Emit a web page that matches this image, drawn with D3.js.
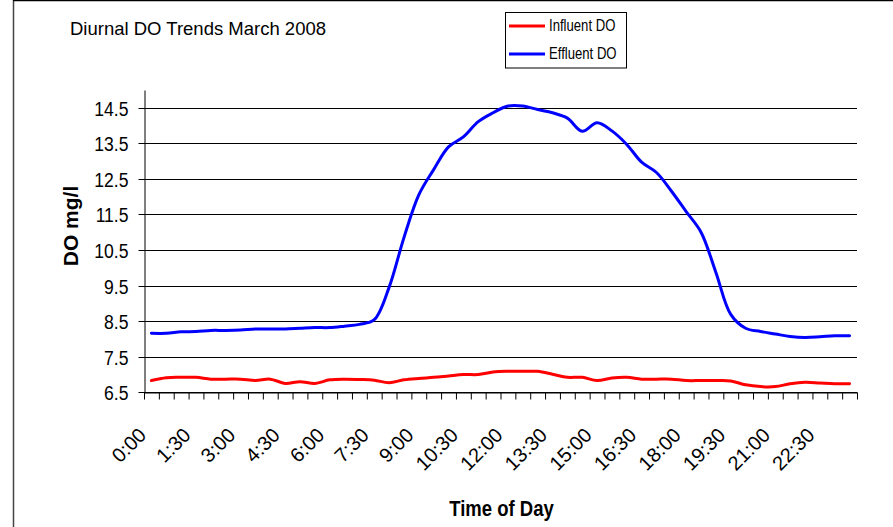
<!DOCTYPE html>
<html>
<head>
<meta charset="utf-8">
<script src="https://cdn.jsdelivr.net/npm/d3@7"></script>
<style>
html,body{margin:0;padding:0;background:#fff;}
svg{display:block;font-family:"Liberation Sans",Arial,sans-serif;}
</style>
</head>
<body>
<svg id="chart" width="893" height="527"></svg>
<script>
const times = ["0:00","0:30","1:00","1:30","2:00","2:30","3:00","3:30","4:00","4:30","5:00","5:30",
  "6:00","6:30","7:00","7:30","8:00","8:30","9:00","9:30","10:00","10:30","11:00","11:30",
  "12:00","12:30","13:00","13:30","14:00","14:30","15:00","15:30","16:00","16:30","17:00","17:30",
  "18:00","18:30","19:00","19:30","20:00","20:30","21:00","21:30","22:00","22:30","23:00","23:30"];
const influentDO = [6.83,6.91,6.92,6.92,6.87,6.87,6.87,6.83,6.87,6.75,6.80,6.75,
  6.85,6.87,6.86,6.84,6.77,6.85,6.89,6.92,6.96,7.00,7.00,7.07,
  7.09,7.09,7.09,7.01,6.92,6.92,6.83,6.90,6.92,6.87,6.87,6.87,
  6.83,6.83,6.83,6.82,6.71,6.66,6.66,6.74,6.78,6.76,6.74,6.74];
const effluentDO = [8.16,8.16,8.20,8.21,8.24,8.24,8.25,8.28,8.28,8.28,8.30,8.32,
  8.32,8.36,8.41,8.54,9.45,10.85,12.05,12.76,13.40,13.68,14.11,14.36,
  14.55,14.55,14.45,14.36,14.21,13.84,14.08,13.85,13.47,12.97,12.68,12.16,
  11.58,11.00,9.87,8.69,8.30,8.21,8.14,8.07,8.04,8.06,8.09,8.09];
const yTicks = [6.5,7.5,8.5,9.5,10.5,11.5,12.5,13.5,14.5];
const xLabelEvery = 3;
const seriesNames = ["Influent DO","Effluent DO"];
const seriesColors = ["#FF0000","#0000FF"];

const svg = d3.select("#chart");
const L = 144, R = 857, T = 90, B = 392.3;

const x = d3.scaleLinear().domain([0, times.length]).range([L, R]);
const y = d3.scaleLinear().domain([6.5, 15]).range([B, T]);

function squeeze(sel, ratio){
  sel.each(function(){
    const len = this.getComputedTextLength();
    this.setAttribute("textLength", len*ratio);
    this.setAttribute("lengthAdjust","spacingAndGlyphs");
  });
}

// outer frame
svg.append("line").attr("x1",13.5).attr("x2",13.5).attr("y1",0).attr("y2",527).attr("stroke","#444").attr("stroke-width",1.5);
svg.append("line").attr("x1",13).attr("x2",893).attr("y1",0.5).attr("y2",0.5).attr("stroke","#000").attr("stroke-width",1.5);

// gridlines
svg.append("g").selectAll("line").data(yTicks).join("line")
  .attr("x1",L).attr("x2",R)
  .attr("y1",d=>Math.round(y(d))+0.5).attr("y2",d=>Math.round(y(d))+0.5)
  .attr("stroke","#000").attr("stroke-width",1);

// y axis
const yAxis = svg.append("g").attr("transform",`translate(${L+0.5},0)`)
  .call(d3.axisLeft(y).tickValues(yTicks).tickSize(6).tickSizeOuter(0).tickFormat(d3.format(".1f")));
yAxis.select(".domain").attr("stroke","#000");
yAxis.selectAll(".tick line").attr("stroke","#000");
yAxis.selectAll(".tick").attr("transform",d=>`translate(0,${Math.round(y(d))+0.5})`);
yAxis.selectAll("text").attr("x",-16).attr("dy","0.37em")
  .attr("font-size",19.5).attr("fill","#000").attr("font-family","Liberation Sans, Arial, sans-serif");
squeeze(yAxis.selectAll("text"), 0.9);

// x axis (ticks between categories)
const xAxis = svg.append("g").attr("transform",`translate(0,${Math.round(B)+0.5})`)
  .call(d3.axisBottom(x).tickValues(d3.range(times.length+1)).tickSize(7).tickSizeOuter(0).tickFormat(""));
xAxis.select(".domain").attr("stroke","#000");
xAxis.selectAll(".tick line").attr("stroke","#000");

// x labels
const labIdx = d3.range(0, times.length, xLabelEvery);
svg.append("g").selectAll("text").data(labIdx).join("text")
  .attr("transform",i=>`translate(${x(i+0.5)-4},${B+44}) rotate(-45)`)
  .attr("text-anchor","end")
  .attr("font-size",20).attr("fill","#000")
  .text(i=>times[i]);

// lines
const line = d3.line().x((d,i)=>x(i+0.5)).y(d=>y(d)).curve(d3.curveCatmullRom.alpha(0.5));
[influentDO, effluentDO].forEach((s,k)=>{
  svg.append("path").datum(s).attr("d",line)
    .attr("fill","none").attr("stroke",seriesColors[k]).attr("stroke-width",3)
    .attr("stroke-linejoin","round").attr("stroke-linecap","round");
});

// titles
svg.append("text").attr("x",70).attr("y",35).attr("font-size",18.5).attr("fill","#000")
  .text("Diurnal DO Trends March 2008");
const xt = svg.append("text").attr("x",501.5).attr("y",515.5).attr("text-anchor","middle")
  .attr("font-size",21.5).attr("font-weight","bold").attr("fill","#000").text("Time of Day");
squeeze(xt, 0.86);
svg.append("text").attr("transform","translate(77.5,226) rotate(-90)").attr("text-anchor","middle")
  .attr("font-size",21).attr("font-weight","bold").attr("fill","#000").text("DO mg/l");

// legend
const lg = svg.append("g");
lg.append("rect").attr("x",505.5).attr("y",12.5).attr("width",121).attr("height",55.5)
  .attr("fill","#fff").attr("stroke","#000").attr("stroke-width",1);
seriesNames.forEach((n,k)=>{
  const ly = 26 + k*28;
  lg.append("line").attr("x1",509).attr("x2",545).attr("y1",ly).attr("y2",ly)
    .attr("stroke",seriesColors[k]).attr("stroke-width",3);
  const t = lg.append("text").attr("x",549).attr("y",ly+5).attr("font-size",16).attr("fill","#000").text(n);
  squeeze(t, 0.82);
});
</script>
</body>
</html>
